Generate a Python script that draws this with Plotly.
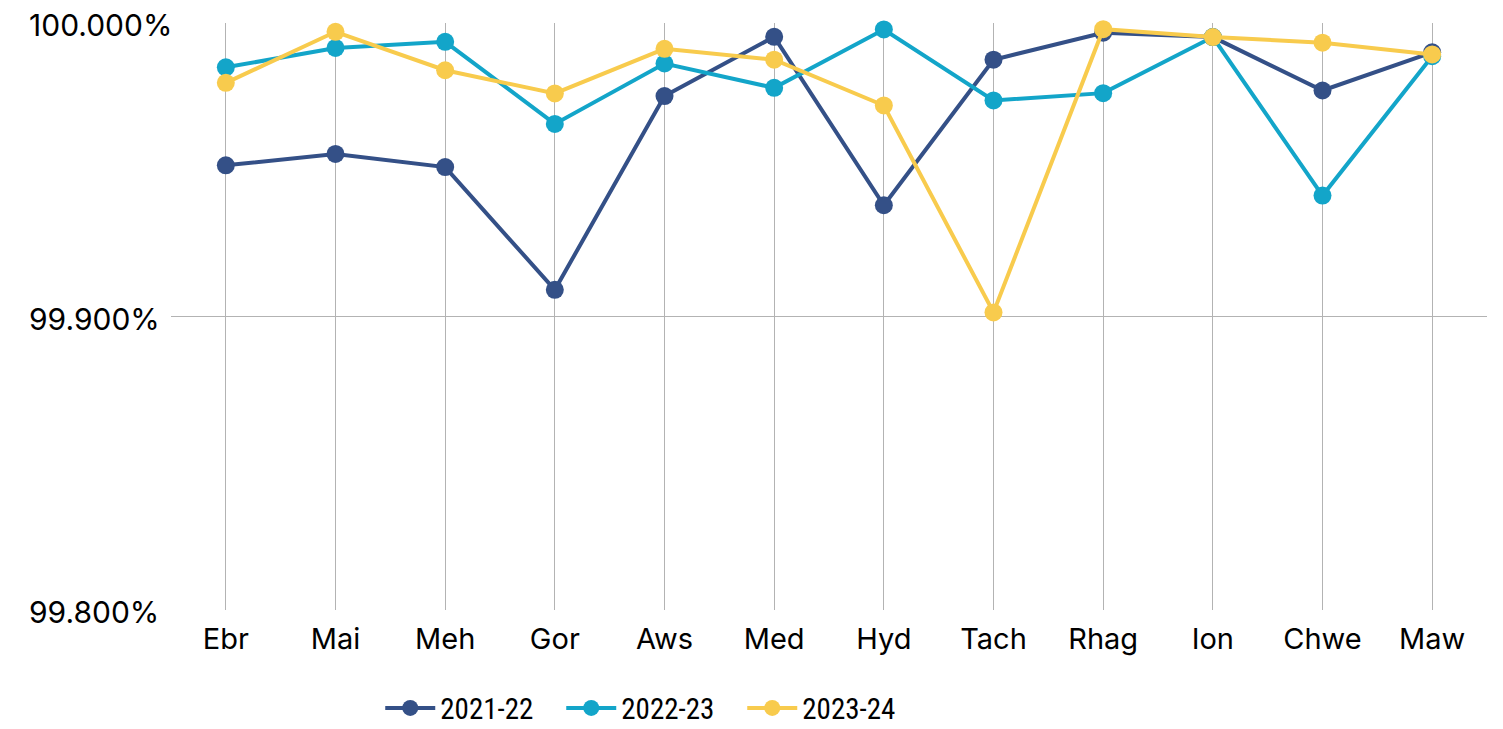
import plotly.graph_objects as go

months = ["Ebr", "Mai", "Meh", "Gor", "Aws", "Med", "Hyd", "Tach", "Rhag", "Ion", "Chwe", "Maw"]

y2021_22 = [99.9515, 99.9554, 99.9509, 99.9091, 99.9751, 99.9953, 99.9379, 99.9875, 99.9967, 99.9952, 99.9770, 99.9900]
y2022_23 = [99.9849, 99.9915, 99.9936, 99.9656, 99.9862, 99.9779, 99.9978, 99.9736, 99.9761, 99.9952, 99.9412, 99.9887]
y2023_24 = [99.9796, 99.9970, 99.9839, 99.9760, 99.9912, 99.9875, 99.9719, 99.9014, 99.9979, 99.9952, 99.9933, 99.9893]

series = [
    ("2021-22", y2021_22, "#345087"),
    ("2022-23", y2022_23, "#13A5C9"),
    ("2023-24", y2023_24, "#F8CB4D"),
]

y_ticks = [99.8, 99.9, 100.0]
y_tick_text = ["99.800%", "99.900%", "100.000%"]

FONT = "Inter"
LEGEND_FONT = "Roboto Condensed, DejaVu Sans Condensed, Liberation Sans Narrow, Inter"

fig = go.Figure()
for name, vals, color in series:
    fig.add_trace(go.Scatter(
        x=months,
        y=vals,
        mode="lines+markers",
        name=name,
        line=dict(color=color, width=4),
        marker=dict(color=color, size=18),
        cliponaxis=False,
    ))

# y tick labels are left-aligned in the original, so draw them as annotations
for val, txt in zip(y_ticks, y_tick_text):
    fig.add_annotation(
        x=0, xref="paper", y=val, yref="y",
        text=txt, showarrow=False,
        xanchor="left", yanchor="middle", xshift=-144, yshift=-2,
        font=dict(family=FONT, size=30, color="#000000"),
    )

# page body has an 8px margin, so the figure is a little smaller than the window
fig.update_layout(
    width=1495,
    height=721,
    margin=dict(l=163, r=16, t=15, b=119),
    paper_bgcolor="white",
    plot_bgcolor="white",
    font=dict(family=FONT, size=29, color="#000000"),
    showlegend=True,
    legend=dict(
        orientation="h",
        x=0.159, xanchor="left",
        xref="paper",
        y=0.029, yanchor="middle",
        yref="container",
        entrywidth=116,
        font=dict(family=LEGEND_FONT, size=29),
        itemwidth=50,
    ),
    hovermode=False,
)

fig.update_xaxes(
    type="category",
    range=[-0.5, 11.5],
    showgrid=True,
    gridcolor="#B3B3B3",
    gridwidth=1,
    showline=False,
    zeroline=False,
    ticks="",
    ticklabelstandoff=9,
    automargin=False,
    tickfont=dict(family=FONT, size=29),
)

fig.update_yaxes(
    range=[99.8, 100.0],
    tickvals=y_ticks,
    showticklabels=False,
    showgrid=True,
    gridcolor="#B3B3B3",
    gridwidth=1,
    zeroline=False,
    showline=False,
    automargin=False,
)

fig.write_html("out.html")
